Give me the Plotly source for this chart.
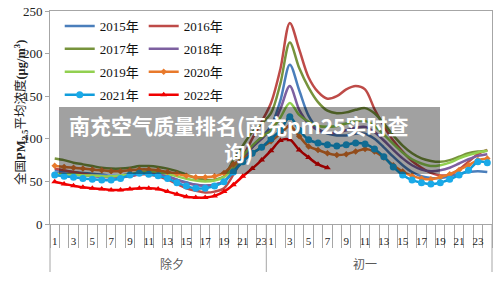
import plotly.graph_objects as go

# ---------------- data ----------------
day_names = ["除夕", "初一"]
hours_day1 = list(range(1, 24))   # 1..23
hours_day2 = list(range(1, 25))   # 1..24
years = ["2015年", "2016年", "2017年", "2018年", "2019年", "2020年", "2021年", "2022年"]

y2015 = [63, 62, 61, 60, 59, 58, 57, 57, 58, 60, 60, 59, 56, 52, 49, 46, 45, 46, 50,
         62, 76, 90, 102, 115, 145, 187,
         157, 127, 112, 106, 104, 104, 106, 106, 100, 90, 79, 69, 61, 56, 54, 54, 56, 59, 61, 62, 61]
y2016 = [65, 63, 61, 59, 57, 56, 55, 55, 56, 58, 58, 56, 52, 47, 42, 39, 37, 38, 42,
         58, 78, 100, 120, 142, 182, 236,
         205, 172, 155, 147, 150, 158, 162, 158, 135, 115, 98, 85, 74, 66, 60, 57, 58, 64, 73, 82, 87]
y2017 = [77, 75, 72, 70, 68, 66, 65, 65, 66, 68, 68, 67, 65, 62, 58, 54, 52, 52, 56,
         75, 92, 108, 118, 130, 165, 213,
         183, 160, 143, 133, 130, 131, 134, 136, 130, 118, 104, 92, 83, 77, 74, 73, 75, 79, 83, 85, 86]
y2018 = [60, 59, 58, 57, 56, 55, 55, 55, 56, 59, 60, 59, 56, 52, 48, 46, 45, 46, 50,
         62, 76, 90, 100, 112, 135, 162,
         134, 118, 110, 107, 107, 110, 113, 114, 108, 98, 87, 77, 69, 64, 62, 63, 66, 71, 76, 80, 82]
y2019 = [59, 58, 58, 57, 57, 56, 56, 57, 58, 61, 62, 61, 59, 56, 53, 51, 50, 51, 55,
         66, 80, 92, 102, 110, 125, 142,
         128, 120, 115, 114, 115, 118, 121, 121, 115, 105, 94, 84, 76, 71, 68, 69, 72, 77, 81, 84, 86]
y2020 = [68.5, 67, 66, 65, 64, 63, 62, 62, 63, 64, 64, 63, 61, 59, 56.5, 55, 55, 56, 60,
         70, 77, 83, 90, 97, 106, 115,
         103, 91, 87, 83, 81, 82, 85, 88, 85, 78, 69, 61.5, 56.5, 53.5, 52.5, 55, 58.5, 63.5, 69, 75, 77]
y2021 = [57.5, 56, 55, 53.5, 52.5, 51.5, 51.5, 53.5, 57.5, 59.5, 58.5, 56.5, 53.5, 48.5, 44.5, 42, 42, 44.5, 49.5,
         61, 73, 83, 90, 100, 110, 126,
         110, 99, 95, 93, 91.5, 93, 95, 94, 88, 79, 67, 57.5, 51.5, 48.5, 47, 48.5, 52.5, 57.5, 63, 73, 72]
y2022 = [49.5, 47, 45, 43, 42, 41, 40, 40, 41, 42, 42, 41,
         38, 35, 32, 31, 31, 33, 38, 46, 56, 65, 75, 86, 98, 99, 87, 78, 70, 66]

y_ticks = [0, 50, 100, 150, 200, 250]

# ---------------- styles ----------------
series = [
    (years[0], y2015, dict(color="#4a7ebb"), None, "legend"),
    (years[1], y2016, dict(color="#be4b48"), None, "legend2"),
    (years[2], y2017, dict(color="#77933c"), None, "legend"),
    (years[3], y2018, dict(color="#7d60a0"), None, "legend2"),
    (years[4], y2019, dict(color="#92d050"), None, "legend"),
    (years[5], y2020, dict(color="#e8792b"), dict(symbol="diamond", size=5, color="#e8792b"), "legend2"),
    (years[6], y2021, dict(color="#109ddc"), dict(symbol="circle", size=7, color="#1aaae8"), "legend"),
    (years[7], y2022, dict(color="#f00000"), dict(symbol="triangle-up", size=6, color="#f00000"), "legend2"),
]

n_cat = len(hours_day1) + len(hours_day2)
cat_x = list(range(n_cat))

fig = go.Figure()
for name, vals, line, marker, leg in series:
    fig.add_trace(go.Scatter(
        x=cat_x[:len(vals)], y=vals, name=name,
        mode="lines+markers" if marker else "lines",
        line=dict(color=line["color"], width=2.5, shape="spline", smoothing=0.9),
        marker=marker if marker else None,
        legend=leg, legendgroup=name,
    ))

# tick labels: odd hours of each day
tickvals, ticktext = [], []
for k, h in enumerate(hours_day1):
    if h % 2 == 1:
        tickvals.append(k); ticktext.append(str(h))
off = len(hours_day1)
for k, h in enumerate(hours_day2):
    if h % 2 == 1:
        tickvals.append(off + k); ticktext.append(str(h))

axis_col = "#a6a6a6"
serif = "Liberation Serif, Noto Sans CJK SC"

fig.update_layout(
    width=500, height=282,
    margin=dict(l=50, r=8, t=11, b=58),
    paper_bgcolor="white", plot_bgcolor="white",
    showlegend=True,
    legend=dict(x=0.022, y=1.0, xanchor="left", yanchor="top", orientation="v",
                font=dict(family=serif, size=13, color="#111"), bgcolor="rgba(0,0,0,0)",
                tracegroupgap=3, itemwidth=30),
    legend2=dict(x=0.212, y=1.0, xanchor="left", yanchor="top", orientation="v",
                 font=dict(family=serif, size=13, color="#111"), bgcolor="rgba(0,0,0,0)",
                 tracegroupgap=3, itemwidth=30),
    xaxis=dict(range=[-0.5, n_cat - 0.5], tickmode="array", tickvals=tickvals, ticktext=ticktext,
               tickangle=0, automargin=False,
               ticks="outside", ticklen=7, tickcolor="rgba(0,0,0,0)",
               tickfont=dict(family=serif, size=11, color="#222"),
               showgrid=False, zeroline=False, showline=True, linecolor=axis_col, linewidth=1,
               mirror=True,
               minor=dict(tick0=-0.5, dtick=1, ticks="outside", ticklen=23, tickcolor=axis_col, tickwidth=1)),
    yaxis=dict(range=[0, 250], tickvals=y_ticks, ticks="outside", ticklen=4, tickcolor=axis_col,
               automargin=False,
               tickfont=dict(family=serif, size=13, color="#222"),
               showgrid=False, zeroline=False, showline=True, linecolor=axis_col, linewidth=1, mirror=True),
)

# group separators and labels
plot_h = 282 - 11 - 58
sep_bottom = -(272 - 224) / plot_h
bounds = [0, len(hours_day1), n_cat]
for b in bounds:
    fig.add_shape(type="line", xref="paper", yref="paper", x0=b / n_cat, x1=b / n_cat,
                  y0=0, y1=sep_bottom, line=dict(color=axis_col, width=1))
for gi, name in enumerate(day_names):
    cx = (bounds[gi] + bounds[gi + 1]) / 2 / n_cat
    fig.add_annotation(x=cx, y=-(263 - 224) / plot_h, xref="paper", yref="paper",
                       text=name, showarrow=False, yanchor="middle",
                       font=dict(family="Noto Sans CJK SC", size=12, color="#595959"))

# y axis title
fig.add_annotation(x=(10 - 50) / 442, y=(224 - 113) / plot_h, xref="paper", yref="paper",
                   text="全国<b>PM<sub>2.5</sub></b>平均浓度<b>(μg/m<sup>3</sup>)</b>",
                   textangle=-90, showarrow=False,
                   font=dict(family=serif, size=12.5, color="#222"))

# overlay banner
fig.add_shape(type="rect", xref="paper", yref="paper",
              x0=(59 - 50) / 442, x1=(440 - 50) / 442,
              y0=(224 - 174) / plot_h, y1=(224 - 107) / plot_h,
              fillcolor="rgba(0,0,0,0.37)", line=dict(width=0), layer="above")
fig.add_annotation(x=(239 - 50) / 442, y=(224 - 138) / plot_h, xref="paper", yref="paper",
                   text="南充空气质量排名(南充pm25实时查<br>询)", showarrow=False,
                   font=dict(family="Noto Sans CJK SC", size=21, color="white", weight="bold"))

fig.write_html("out.html")
